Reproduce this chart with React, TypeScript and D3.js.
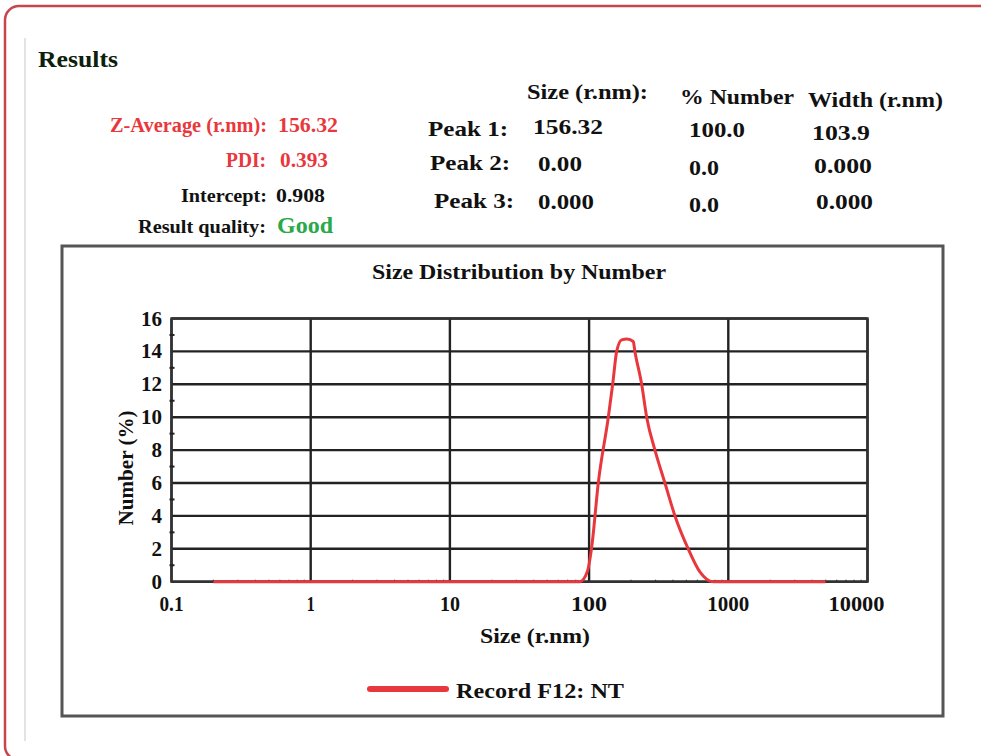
import React from "react";
import * as d3 from "d3";

// ---- data ----
const sizes = [0.2, 86, 97, 104.4, 116.4, 137.4, 147.7, 157.8, 171.4, 187.1, 207.6, 213.3, 238.6, 259.2, 297.2, 350.6, 413.8, 515.3, 625.2, 779, 5000];
const numbers = [0, 0, 0.6, 2.1, 6, 10, 12, 14, 14.7, 14.75, 14.6, 14, 12, 10, 8, 6, 4, 2, 0.6, 0, 0];
const xTicks = [0.1, 1, 10, 100, 1000, 10000];
const xTickLabels = ["0.1", "1", "10", "100", "1000", "10000"];
const yTicks = [0, 2, 4, 6, 8, 10, 12, 14, 16];
const peakLabels = ["Peak 1:", "Peak 2:", "Peak 3:"];
const peakSizes = ["156.32", "0.00", "0.000"];
const peakNumbers = ["100.0", "0.0", "0.0"];
const peakWidths = ["103.9", "0.000", "0.000"];
const seriesName = "Record F12: NT";

const FONT = "'Liberation Serif', 'DejaVu Serif', serif";
const RED = "#e8383d";

type TProps = { x: number; y: number; len?: number; size?: number; fill?: string; children: React.ReactNode; anchor?: string };
function T({ x, y, len, size = 18, fill = "#111", children, anchor }: TProps) {
  return (
    <text
      x={x}
      y={y}
      fontFamily={FONT}
      fontWeight="bold"
      fontSize={size}
      fill={fill}
      textAnchor={anchor}
      {...(len ? { textLength: len, lengthAdjust: "spacingAndGlyphs" } : {})}
    >
      {children}
    </text>
  );
}

export default function App() {
  const x = d3.scaleLog().domain([0.1, 10000]).range([171.5, 867.5]);
  const y = d3.scaleLinear().domain([0, 16]).range([581.7, 318.5]);

  const data = sizes.map((s, i) => ({ s, v: numbers[i] }));
  const line = d3
    .line<{ s: number; v: number }>()
    .x((d) => x(d.s))
    .y((d) => y(d.v))
    .curve(d3.curveMonotoneX);

  const minorX: number[] = [];
  for (let dec = 0.1; dec < 10000; dec *= 10) {
    for (let k = 2; k <= 9; k++) minorX.push(dec * k);
  }
  const minorY = d3.range(1, 16, 1).filter((v) => v % 2 === 1);

  const peakX = [428, 430, 434];
  const rowY = [136, 170, 208];
  const xLabelW = [24, 8, 20, 36, 42, 56];

  return (
    <svg width={981} height={756} style={{ position: "absolute", left: 0, top: 0, background: "#fff" }}>
      {/* outer frame */}
      <rect x={5} y={6} width={990} height={754} rx={14} ry={14} fill="none" stroke="#c9454c" strokeWidth={2.5} />
      <line x1={25} y1={38} x2={25} y2={741} stroke="#c8c8c8" strokeWidth={1} />

      {/* results block */}
      <T x={38} y={67} len={80} size={24} fill="#0c200c">Results</T>
      <T x={110} y={132} len={157} size={20} fill={RED}>Z-Average (r.nm):</T>
      <T x={278} y={132} len={60} size={20} fill={RED}>156.32</T>
      <T x={226} y={167} len={40} size={20} fill={RED}>PDI:</T>
      <T x={280} y={167} len={48} size={20} fill={RED}>0.393</T>
      <T x={181} y={202} len={86} size={19}>Intercept:</T>
      <T x={276} y={202} len={49} size={19}>0.908</T>
      <T x={138} y={233} len={128} size={19}>Result quality:</T>
      <T x={277} y={233} len={56} size={23} fill="#2aa84a">Good</T>

      {/* peak table */}
      <T x={527} y={99} len={121} size={22}>Size (r.nm):</T>
      <T x={680} y={104} len={114} size={22}>% Number</T>
      <T x={808} y={107} len={135} size={22}>Width (r.nm)</T>
      {peakLabels.map((p, i) => (
        <T key={p} x={peakX[i]} y={rowY[i]} len={80} size={22}>{p}</T>
      ))}
      <T x={533} y={134} len={70} size={22}>{peakSizes[0]}</T>
      <T x={538} y={171} len={44} size={22}>{peakSizes[1]}</T>
      <T x={538} y={209} len={56} size={22}>{peakSizes[2]}</T>
      <T x={689} y={137} len={56} size={22}>{peakNumbers[0]}</T>
      <T x={689} y={175} len={30} size={22}>{peakNumbers[1]}</T>
      <T x={689} y={212} len={30} size={22}>{peakNumbers[2]}</T>
      <T x={812} y={140} len={58} size={22}>{peakWidths[0]}</T>
      <T x={814} y={173} len={58} size={22}>{peakWidths[1]}</T>
      <T x={816} y={209} len={57} size={22}>{peakWidths[2]}</T>

      {/* chart box */}
      <rect x={62} y={246} width={881} height={470} fill="#fff" stroke="#555" strokeWidth={3} />
      <T x={372} y={279} len={294} size={21}>Size Distribution by Number</T>

      {/* grid */}
      {yTicks.map((t) => (
        <line key={"gy" + t} x1={x(0.1)} x2={x(10000)} y1={y(t)} y2={y(t)} stroke="#222" strokeWidth={2.4} />
      ))}
      {xTicks.map((t) => (
        <line key={"gx" + t} x1={x(t)} x2={x(t)} y1={y(16)} y2={y(0)} stroke="#222" strokeWidth={2.4} />
      ))}
      <rect x={x(0.1)} y={y(16)} width={x(10000) - x(0.1)} height={y(0) - y(16)} fill="none" stroke="#333" strokeWidth={2.4} />
      {minorY.map((t) => (
        <line key={"my" + t} x1={x(0.1) - 2} x2={x(0.1) + 3} y1={y(t)} y2={y(t)} stroke="#222" strokeWidth={2} />
      ))}
      {minorX.map((t, i) => (
        <line key={"mx" + i} x1={x(t)} x2={x(t)} y1={y(0) - 2} y2={y(0) + 1} stroke="#333" strokeWidth={1.2} />
      ))}

      {/* series */}
      <path d={line(data) || ""} fill="none" stroke={RED} strokeWidth={3} strokeLinejoin="round" />

      {/* tick labels */}
      {yTicks.map((t) => (
        <T key={"yl" + t} x={162} y={y(t) + 7} size={21} anchor="end">{String(t)}</T>
      ))}
      {xTicks.map((t, i) => (
        <T key={"xl" + t} x={i === 5 ? x(t) - 11 : x(t)} y={611} len={xLabelW[i]} size={20} anchor="middle">{xTickLabels[i]}</T>
      ))}

      {/* axis titles */}
      <g transform="translate(133,468) rotate(-90)">
        <T x={0} y={0} len={115} size={20} anchor="middle">Number (%)</T>
      </g>
      <T x={480} y={643} len={110} size={21}>Size (r.nm)</T>

      {/* legend */}
      <line x1={370} x2={446} y1={689} y2={689} stroke={RED} strokeWidth={6} strokeLinecap="round" />
      <T x={456} y={698} len={168} size={22}>{seriesName}</T>
    </svg>
  );
}
